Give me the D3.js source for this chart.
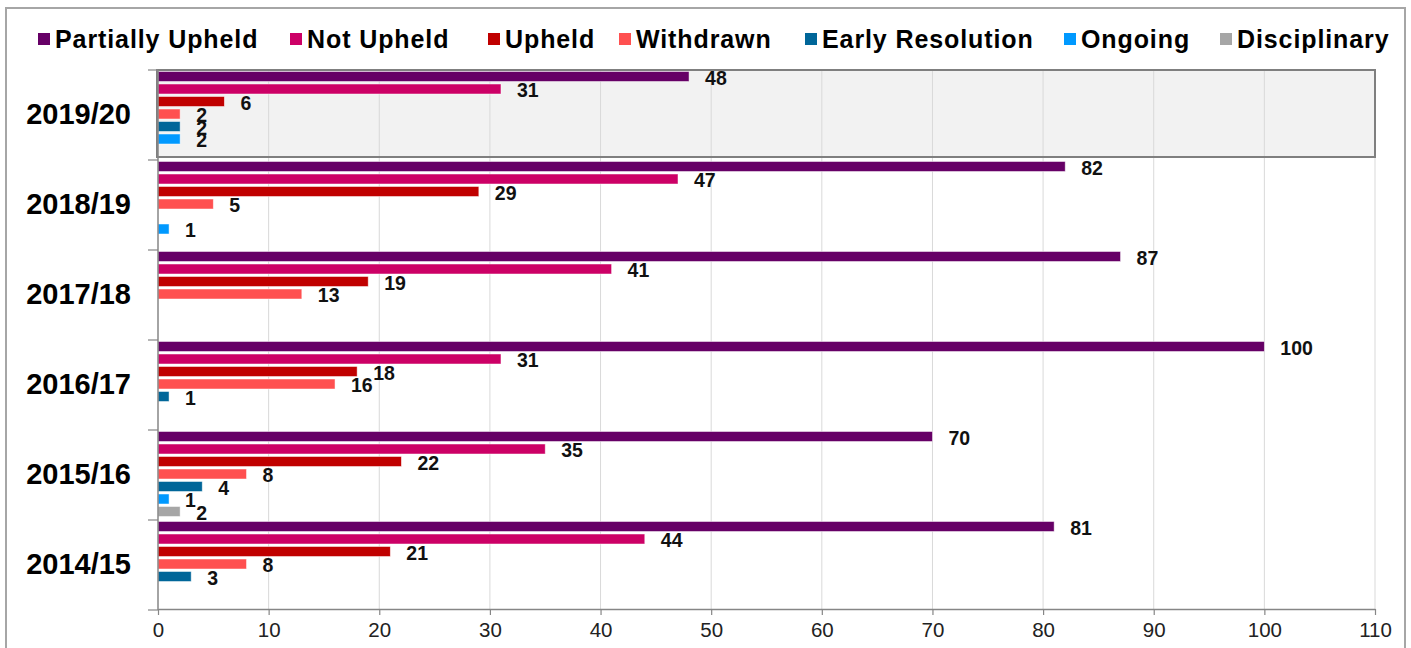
<!DOCTYPE html>
<html>
<head>
<meta charset="utf-8">
<script src="https://cdn.jsdelivr.net/npm/d3@7"></script>
<style>
  html, body { margin: 0; padding: 0; background: #fff; }
  svg { display: block; font-family: Arial, "Liberation Sans", sans-serif; }
</style>
</head>
<body>
<svg id="chart" width="1411" height="648"></svg>
<script>
// Complaint outcomes by financial year
const years = ["2019/20", "2018/19", "2017/18", "2016/17", "2015/16", "2014/15"];
const seriesNames = ["Partially Upheld", "Not Upheld", "Upheld", "Withdrawn", "Early Resolution", "Ongoing", "Disciplinary"];
const seriesColors = ["#660066", "#cc0066", "#c00000", "#ff5050", "#006699", "#0099ff", "#a6a6a6"];

const partiallyUpheld = [48, 82, 87, 100, 70, 81];
const notUpheld       = [31, 47, 41, 31, 35, 44];
const upheld          = [6, 29, 19, 18, 22, 21];
const withdrawn       = [2, 5, 13, 16, 8, 8];
const earlyResolution = [2, null, null, 1, 4, 3];
const ongoing         = [2, 1, null, null, 1, null];
const disciplinary    = [null, null, null, null, 2, null];

const xTicks = [0, 10, 20, 30, 40, 50, 60, 70, 80, 90, 100, 110];
const highlightYear = "2019/20";

const seriesValues = [partiallyUpheld, notUpheld, upheld, withdrawn, earlyResolution, ongoing, disciplinary];

// flat records: one per drawn bar
const records = [];
years.forEach((yr, i) => {
  seriesNames.forEach((s, j) => {
    const v = seriesValues[j][i];
    if (v != null && v > 0) records.push({ year: yr, series: s, value: v, color: seriesColors[j] });
  });
});

const svg = d3.select("#chart");

const plot = { left: 158, right: 1375, top: 70, bottom: 610 };

const x = d3.scaleLinear().domain([0, 110]).range([plot.left, plot.right]);
const y0 = d3.scaleBand().domain(years).range([plot.top, plot.bottom]);
const y1 = d3.scaleBand().domain(seriesNames).range([1.5, 86.5]).paddingInner(0.2);

// outer frame
svg.append("rect")
  .attr("x", 6).attr("y", 8).attr("width", 1399).attr("height", 660)
  .attr("fill", "none").attr("stroke", "#a6a6a6").attr("stroke-width", 2);

// highlighted year band
svg.append("rect")
  .attr("x", x(0) - 1).attr("y", y0(highlightYear))
  .attr("width", x(110) - x(0) + 1).attr("height", 87)
  .attr("fill", "#f2f2f2");

// vertical gridlines
svg.append("g")
  .selectAll("line")
  .data(xTicks.filter(t => t > 0))
  .join("line")
  .attr("x1", d => x(d)).attr("x2", d => x(d))
  .attr("y1", plot.top).attr("y2", plot.bottom)
  .attr("stroke", "#d9d9d9").attr("stroke-width", 1);

// bars
svg.append("g")
  .selectAll("rect")
  .data(records)
  .join("rect")
  .attr("x", x(0))
  .attr("y", d => y0(d.year) + y1(d.series))
  .attr("width", d => x(d.value) - x(0))
  .attr("height", y1.bandwidth())
  .attr("fill", d => d.color)
  .attr("stroke", "rgba(255,255,255,0.6)")
  .attr("stroke-width", 0.8);

// value labels
svg.append("g")
  .selectAll("text")
  .data(records)
  .join("text")
  .attr("x", d => x(d.value) + 16)
  .attr("y", d => y0(d.year) + y1(d.series) + y1.bandwidth() / 2 + 8)
  .attr("font-size", "19.5px")
  .attr("font-weight", "bold")
  .attr("fill", "#111")
  .text(d => d.value);

// highlight border on top
svg.append("rect")
  .attr("x", x(0) - 1).attr("y", y0(highlightYear))
  .attr("width", x(110) - x(0) + 1).attr("height", 87)
  .attr("fill", "none").attr("stroke", "#7f7f7f").attr("stroke-width", 2);

// x axis
const xAxis = svg.append("g")
  .attr("transform", `translate(0,${plot.bottom - 1})`)
  .call(d3.axisBottom(x).tickValues(xTicks).tickSize(6).tickSizeOuter(0).tickPadding(7));
xAxis.select(".domain").attr("stroke", "#868686").attr("stroke-width", 1.5);
xAxis.selectAll(".tick line").attr("stroke", "#868686").attr("stroke-width", 1.2);
xAxis.selectAll(".tick text")
  .attr("font-size", "20.5px")
  .attr("font-family", "Arial, 'Liberation Sans', sans-serif")
  .attr("fill", "#222");

// y axis line and boundary ticks
const yAxis = svg.append("g");
yAxis.append("line")
  .attr("x1", x(0)).attr("x2", x(0))
  .attr("y1", plot.top).attr("y2", plot.bottom)
  .attr("stroke", "#868686").attr("stroke-width", 1.5);
yAxis.selectAll("line.bound")
  .data(years.map(d => y0(d)).concat([plot.bottom]))
  .join("line")
  .attr("class", "bound")
  .attr("x1", x(0) - 10).attr("x2", x(0))
  .attr("y1", d => d).attr("y2", d => d)
  .attr("stroke", "#868686").attr("stroke-width", 1.2);

// year labels
yAxis.selectAll("text")
  .data(years)
  .join("text")
  .attr("x", 131)
  .attr("y", d => y0(d) + y0.bandwidth() / 2 + 9)
  .attr("text-anchor", "end")
  .attr("font-size", "29px")
  .attr("font-weight", "bold")
  .attr("fill", "#000")
  .text(d => d);

// legend
const legendX = [38, 290, 488, 619, 805, 1064, 1220];
const legend = svg.append("g");
const items = legend.selectAll("g")
  .data(seriesNames)
  .join("g")
  .attr("transform", (d, i) => `translate(${legendX[i]},0)`);
items.append("rect")
  .attr("x", 0).attr("y", 33).attr("width", 12).attr("height", 12)
  .attr("fill", (d, i) => seriesColors[i]);
items.append("text")
  .attr("x", 17).attr("y", 47.5)
  .attr("font-size", "25px")
  .attr("font-weight", "bold")
  .attr("letter-spacing", "0.9px")
  .attr("fill", "#000")
  .text(d => d);
</script>
</body>
</html>
